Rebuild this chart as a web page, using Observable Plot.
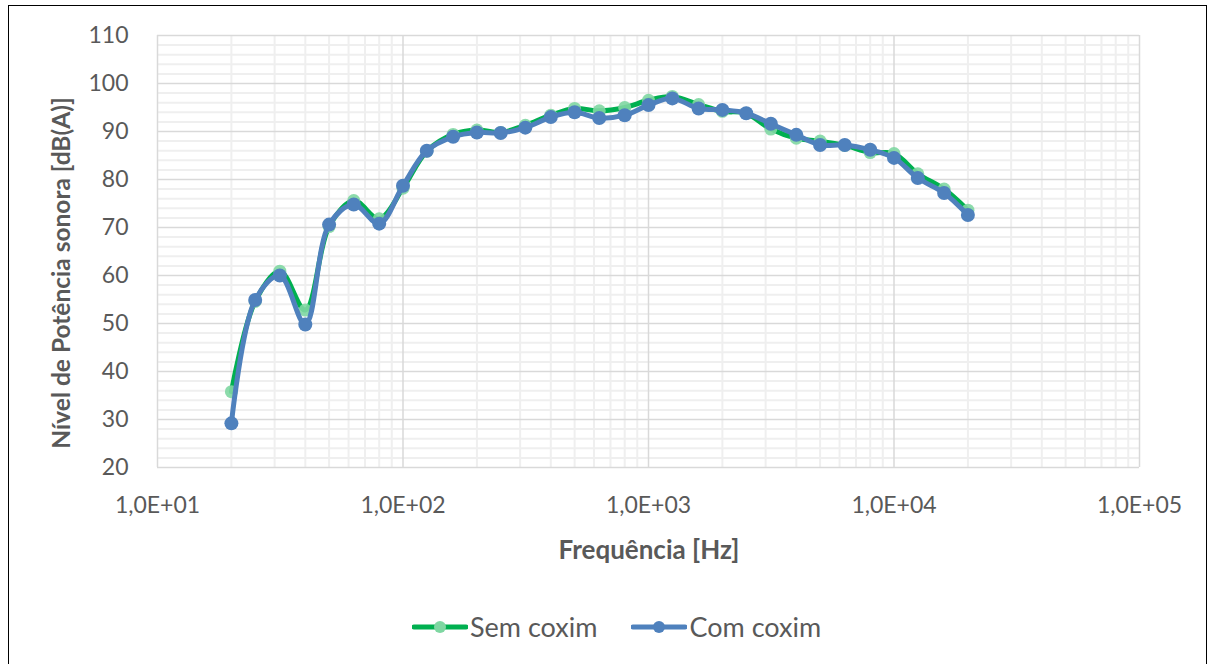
<!DOCTYPE html>
<html>
<head>
<meta charset="utf-8">
<script src="https://cdn.jsdelivr.net/npm/d3@7"></script>
<script src="https://cdn.jsdelivr.net/npm/@observablehq/plot@0.6"></script>
<style>
  html, body { margin: 0; padding: 0; background: #fff; overflow: hidden; }
  body { width: 1216px; height: 664px; position: relative; font-family: Lato, "Open Sans", sans-serif; }
  #frame { position: absolute; left: 8px; top: 5px; width: 1199px; height: 680px; border: 1.5px solid #000; box-sizing: border-box; }
  #chart { position: absolute; left: 0; top: 0; }
  .title { position: absolute; color: #595959; font-weight: bold; white-space: nowrap; }
  #xtitle { left: 649px; top: 533px; transform: translateX(-50%); font-size: 26px; }
  #ytitle { left: 60px; top: 273px; transform: translate(-50%, -50%) rotate(-90deg); font-size: 24.5px; }
  #legend { position: absolute; top: 610px; left: 412px; display: flex; align-items: center; color: #595959; font-size: 27px; }
  #legend .item { display: flex; align-items: center; margin-right: 34px; }
  #legend svg { margin-right: 2px; }
</style>
</head>
<body>
<div id="frame"></div>
<div id="chart"></div>
<div id="xtitle" class="title">Frequência [Hz]</div>
<div id="ytitle" class="title">Nível de Potência sonora [dB(A)]</div>
<div id="legend"></div>
<script>
// Data: 1/3-octave band centre frequencies (Hz)
const frequencies = [20, 25, 31.5, 40, 50, 63, 80, 100, 125, 160, 200, 250, 315, 400, 500, 630, 800, 1000, 1250, 1600, 2000, 2500, 3150, 4000, 5000, 6300, 8000, 10000, 12500, 16000, 20000];
// Sound power level [dB(A)]
const semCoxim = [35.8, 54.6, 60.9, 52.8, 70.2, 75.6, 71.8, 78.2, 85.9, 89.4, 90.3, 89.8, 91.3, 93.4, 94.8, 94.3, 95.0, 96.5, 97.3, 95.6, 94.2, 93.8, 90.5, 88.6, 88.0, 87.1, 85.6, 85.4, 81.2, 78.0, 73.6];
const comCoxim = [29.2, 54.9, 60.0, 49.8, 70.6, 74.8, 70.8, 78.7, 86.0, 88.9, 89.8, 89.7, 90.8, 93.0, 94.0, 92.8, 93.4, 95.5, 96.9, 94.8, 94.5, 93.8, 91.6, 89.3, 87.2, 87.2, 86.2, 84.5, 80.3, 77.2, 72.6];
const seriesNames = ["Sem coxim", "Com coxim"];
const seriesColors = ["#00b050", "#4f81bd"];
const markerColors = ["#7fd7a2", "#4f81bd"];
const xTicks = [10, 100, 1000, 10000, 100000];
const yTicks = [20, 30, 40, 50, 60, 70, 80, 90, 100, 110];

const rows = frequencies.map((f, i) => ({f, sem: semCoxim[i], com: comCoxim[i]}));
const minorX = [];
for (const d of [10, 100, 1000, 10000]) for (let k = 2; k <= 9; k++) minorX.push(d * k);
const minorY = d3.range(22, 110, 2).filter(v => v % 10 !== 0);

const fmt = d => "1,0E+" + String(Math.round(Math.log10(d))).padStart(2, "0");

const W = 1216, H = 580;
const chart = Plot.plot({
  width: W,
  height: H,
  marginLeft: 157,
  marginRight: W - 1139,
  marginTop: 35,
  marginBottom: H - 467,
  style: {fontFamily: "Lato, 'Open Sans', sans-serif", fontSize: "23px", color: "#595959", background: "transparent"},
  x: {type: "log", domain: [10, 100000]},
  y: {domain: [20, 110]},
  marks: [
    Plot.ruleX(minorX, {stroke: "#efefef", strokeWidth: 2}),
    Plot.ruleY(minorY, {stroke: "#efefef", strokeWidth: 2}),
    Plot.ruleX(xTicks, {stroke: "#d9d9d9", strokeWidth: 1.5}),
    Plot.ruleY(yTicks, {stroke: "#d9d9d9", strokeWidth: 1.5}),
    Plot.axisX(xTicks, {tickSize: 0, tickPadding: 29, tickFormat: fmt, label: null, fontSize: 23, fill: "#595959"}),
    Plot.axisY(yTicks, {tickSize: 0, tickPadding: 29, label: null, fontSize: 23, fill: "#595959"}),
    Plot.line(rows, {x: "f", y: "sem", stroke: seriesColors[0], strokeWidth: 5, curve: "catmull-rom"}),
    Plot.dot(rows, {x: "f", y: "sem", r: 6.5, fill: markerColors[0], fillOpacity: 0.9, stroke: "none"}),
    Plot.line(rows, {x: "f", y: "com", stroke: seriesColors[1], strokeWidth: 5, curve: "catmull-rom"}),
    Plot.dot(rows, {x: "f", y: "com", r: 7, fill: markerColors[1], stroke: "none"})
  ]
});
document.getElementById("chart").appendChild(chart);

// Legend
const legend = document.getElementById("legend");
seriesNames.forEach((name, i) => {
  const item = document.createElement("div");
  item.className = "item";
  item.innerHTML = `<svg width="56" height="16"><line x1="2" y1="8" x2="54" y2="8" stroke="${seriesColors[i]}" stroke-width="5" stroke-linecap="round"/><circle cx="28" cy="8" r="6" fill="${markerColors[i]}"/></svg><span>${name}</span>`;
  legend.appendChild(item);
});
</script>
</body>
</html>
